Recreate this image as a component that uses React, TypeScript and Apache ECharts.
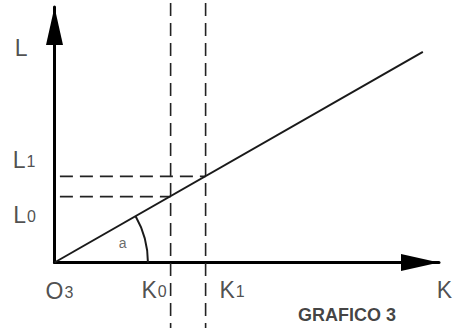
import React, { useEffect, useRef } from "react";
import * as echarts from "echarts";

// Axis ranges (data units)
const xRange = [0, 100];
const yRange = [0, 100];

// Main line: from origin to end point
const originPoint = [0, 0];
const lineEnd = [95.8, 82.4];

// Guide values
const kValues = [30.2, 39.3]; // K0, K1
const lValues = [25.8, 33.7]; // L0, L1

// Extents of the dashed guides
const dashTop = 101.6;
const dashBottom = -26;
const dashLeft = -14.2;

// Angle arc radius (x units)
const arcRadius = 24.3;

// Labels: main letter, subscript, anchor position
const labelMain = ["L", "L", "L", "O", "K", "K", "K"];
const labelSub = ["", "1", "0", "3", "0", "1", ""];
const labelX = [-8.7, -7.9, -7.8, 1.3, 25.9, 46.2, 101.4];
const labelY = [84.5, 40.9, 19.2, -10.6, -10.2, -10.2, -10.0];

const angleLabel = { text: "a", x: 17.7, y: 7.6 };
const titleLabel = { text: "GRAFICO 3", x: 76.1, y: -20.5 };

const FONT = "'Liberation Sans', Arial, Helvetica, sans-serif";

export default function App() {
  const ref = useRef<HTMLDivElement>(null);

  useEffect(() => {
    document.body.style.margin = "0";
    const chart = echarts.init(ref.current!, null, { renderer: "svg" });

    const axisLine = {
      show: true,
      lineStyle: { color: "#000", width: 3 },
      symbol: ["none", "triangle"],
      symbolSize: [17, 38],
      symbolOffset: [0, -19],
    };

    const dashStyle = { color: "#222", width: 1.6, type: [13, 7] as any };

    const dashSeries: any[] = [];
    kValues.forEach((k, i) => {
      dashSeries.push({
        type: "line",
        name: "K" + i,
        data: [
          [k, dashTop],
          [k, dashBottom],
        ],
        symbol: "none",
        clip: false,
        silent: true,
        lineStyle: dashStyle,
        z: 1,
      });
    });
    lValues.forEach((l, i) => {
      dashSeries.push({
        type: "line",
        name: "L" + i,
        data: [
          [dashLeft, l],
          [kValues[i], l],
        ],
        symbol: "none",
        clip: false,
        silent: true,
        lineStyle: dashStyle,
        z: 1,
      });
    });

    chart.setOption({
      animation: false,
      grid: { left: 54.5, right: 23, top: 7, bottom: 65.5, containLabel: false },
      xAxis: {
        type: "value",
        min: xRange[0],
        max: xRange[1],
        axisLine,
        axisTick: { show: false },
        axisLabel: { show: false },
        splitLine: { show: false },
      },
      yAxis: {
        type: "value",
        min: yRange[0],
        max: yRange[1],
        axisLine,
        axisTick: { show: false },
        axisLabel: { show: false },
        splitLine: { show: false },
      },
      series: [
        ...dashSeries,
        {
          type: "line",
          name: "main",
          data: [originPoint, lineEnd],
          symbol: "none",
          clip: false,
          silent: true,
          lineStyle: { color: "#1a1a1a", width: 2 },
          z: 3,
        },
        {
          type: "custom",
          name: "arc",
          clip: false,
          silent: true,
          data: [[originPoint[0], originPoint[1], arcRadius]],
          renderItem: (params: any, api: any) => {
            const c = api.coord([api.value(0), api.value(1)]);
            const p = api.coord([api.value(0) + api.value(2), api.value(1)]);
            const r = p[0] - c[0];
            const e = api.coord(lineEnd);
            const ang = Math.atan2(c[1] - e[1], e[0] - c[0]);
            return {
              type: "arc",
              shape: { cx: c[0], cy: c[1], r, startAngle: -ang, endAngle: 0, clockwise: true },
              style: { stroke: "#1a1a1a", lineWidth: 2, fill: null },
            };
          },
          z: 3,
        },
        {
          type: "scatter",
          name: "labels",
          symbolSize: 0,
          silent: true,
          clip: false,
          data: labelMain.map((m, i) => ({
            value: [labelX[i], labelY[i]],
            main: m,
            sub: labelSub[i],
          })),
          label: {
            show: true,
            position: "inside",
            align: "center",
            verticalAlign: "middle",
            formatter: (p: any) =>
              p.data.sub ? `{m|${p.data.main}}{s|${p.data.sub}}` : `{m|${p.data.main}}`,
            rich: {
              m: { fontFamily: FONT, fontSize: 23, color: "#222", lineHeight: 26, verticalAlign: "bottom" },
              s: { fontFamily: FONT, fontSize: 16, color: "#222", verticalAlign: "bottom", padding: [0, 0, 2, 1] },
            },
          },
        },
        {
          type: "scatter",
          name: "angle",
          symbolSize: 0,
          silent: true,
          clip: false,
          data: [{ value: [angleLabel.x, angleLabel.y], text: angleLabel.text }],
          label: {
            show: true,
            position: "inside",
            formatter: (p: any) => p.data.text,
            fontFamily: FONT,
            fontSize: 14,
            color: "#444",
          },
        },
        {
          type: "scatter",
          name: "title",
          symbolSize: 0,
          silent: true,
          clip: false,
          data: [{ value: [titleLabel.x, titleLabel.y], text: titleLabel.text }],
          label: {
            show: true,
            position: "inside",
            formatter: (p: any) => p.data.text,
            fontFamily: FONT,
            fontSize: 18,
            fontWeight: "bold",
            color: "#111",
          },
        },
      ],
    });

    return () => chart.dispose();
  }, []);

  return <div ref={ref} style={{ width: 462, height: 328 }} />;
}
